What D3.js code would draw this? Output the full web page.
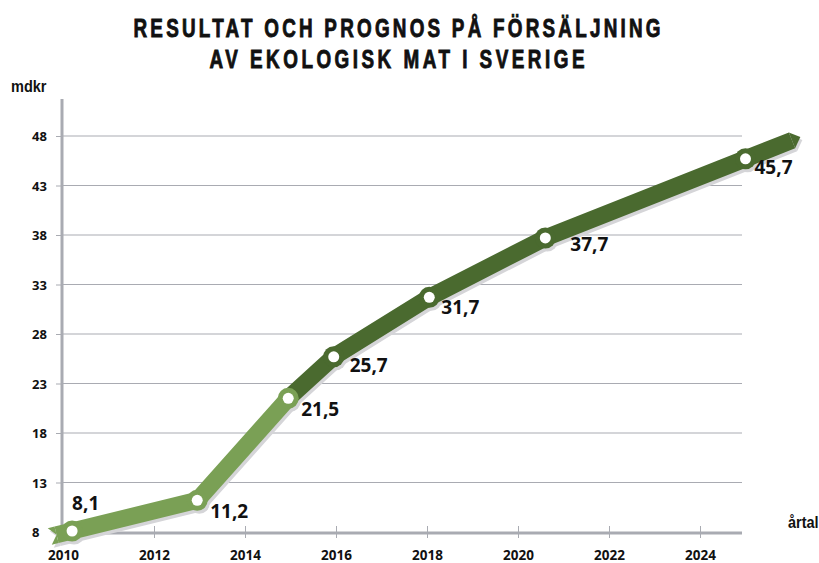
<!DOCTYPE html>
<html>
<head>
<meta charset="utf-8">
<script src="https://cdn.jsdelivr.net/npm/d3@7"></script>
<style>
  body { margin: 0; background: #fff; }
  svg { display: block; }
</style>
</head>
<body>
<div id="chart"></div>
<script>
// Sales of organic food in Sweden, result + forecast (billion SEK)
const years  = [2010.2, 2012.95, 2014.95, 2015.95, 2018.05, 2020.6, 2025];
const values = [8.1, 11.2, 21.5, 25.7, 31.7, 37.7, 45.7];
const yTicks = [8, 13, 18, 23, 28, 33, 38, 43, 48];
const xTicks = [2010, 2012, 2014, 2016, 2018, 2020, 2022, 2024];
const titleLines = ["RESULTAT OCH PROGNOS PÅ FÖRSÄLJNING", "AV EKOLOGISK MAT I SVERIGE"];
const splitIndex = 2; // points up to here are drawn in light green

// label offsets from each point (layout only)
const labelOffsets = [[0, -21], [13, 18], [13, 18], [16, 15], [12, 17], [25, 13], [9, 15]];

const width = 819, height = 563;
const axisX = 62, axisY = 533, gridRight = 742;
const lightGreen = "#7aa055", darkGreen = "#4a6a2f", shadowGray = "#d5d5d8", axisGray = "#a9abb2";
const halfW = 8.5;
const narrowFont = "'Liberation Sans', Arial, sans-serif";

const svg = d3.select("#chart").append("svg")
  .attr("width", width)
  .attr("height", height);

const x = d3.scaleLinear().domain([2010, 2024]).range([63, 700]);
const y = d3.scaleLinear().domain([8, 48]).range([532, 136]);

// title: condensed look by squeezing a bold sans horizontally
const squeeze = 0.74;
svg.append("g")
  .attr("transform", `translate(397,0) scale(${squeeze},1)`)
  .selectAll("text")
  .data(titleLines)
  .join("text")
    .attr("x", 0)
    .attr("y", (d, i) => 37.5 + i * 31)
    .attr("text-anchor", "middle")
    .attr("textLength", (d, i) => (i === 0 ? 527 : 375) / squeeze)
    .attr("lengthAdjust", "spacing")
    .style("font-family", narrowFont)
    .style("font-weight", "bold")
    .style("font-size", "25.5px")
    .style("fill", "#111")
    .style("stroke", "#111")
    .style("stroke-width", 0.9)
    .text(d => d);

// unit labels
svg.append("text")
  .attr("transform", "translate(11,92) scale(0.88,1)")
  .style("font-family", narrowFont)
  .style("font-weight", "bold").style("font-size", "16.5px")
  .style("fill", "#111")
  .text("mdkr");

svg.append("text")
  .attr("transform", "translate(788,528) scale(0.88,1)")
  .style("font-family", narrowFont)
  .style("font-weight", "bold").style("font-size", "16.5px")
  .style("fill", "#111")
  .text("årtal");

// gridlines
svg.append("g").selectAll("line")
  .data(yTicks.filter(t => t !== 8))
  .join("line")
    .attr("x1", axisX).attr("x2", gridRight)
    .attr("y1", d => y(d)).attr("y2", d => y(d))
    .attr("stroke", axisGray).attr("stroke-width", 1);

// y axis
const yAxisG = svg.append("g")
  .attr("transform", `translate(${axisX},0)`)
  .call(d3.axisLeft(y).tickValues(yTicks).tickSize(6).tickPadding(0));
yAxisG.select(".domain").remove();
yAxisG.selectAll(".tick line").attr("stroke", axisGray);
yAxisG.selectAll(".tick text")
  .attr("x", -30)
  .attr("text-anchor", "start")
  .attr("dy", "0.36em")
  .style("font-family", "'Open Sans', sans-serif")
  .style("font-weight", "bold")
  .style("font-size", "13px")
  .style("fill", "#111");

svg.append("line")
  .attr("x1", axisX).attr("x2", axisX)
  .attr("y1", 99).attr("y2", axisY + 1.5)
  .attr("stroke", axisGray).attr("stroke-width", 3);

// x axis
const xAxisG = svg.append("g")
  .attr("transform", `translate(0,${axisY})`)
  .call(d3.axisBottom(x).tickValues(xTicks).tickFormat(d3.format("d")).tickSize(0).tickPadding(0));
xAxisG.select(".domain").remove();
xAxisG.selectAll(".tick line")
  .attr("y1", -7).attr("y2", 5)
  .attr("stroke", axisGray);
xAxisG.selectAll(".tick text")
  .attr("y", 27)
  .attr("dy", 0)
  .style("font-family", "'Open Sans', sans-serif")
  .style("font-weight", "bold")
  .style("font-size", "13.5px")
  .style("fill", "#111");

svg.append("line")
  .attr("x1", axisX - 1.5).attr("x2", gridRight)
  .attr("y1", axisY).attr("y2", axisY)
  .attr("stroke", axisGray).attr("stroke-width", 3);

// band geometry
const pts = years.map((yr, i) => [x(yr), y(values[i])]);

function unit(a, b) {
  const dx = b[0] - a[0], dy = b[1] - a[1];
  const len = Math.hypot(dx, dy);
  return [dx / len, dy / len];
}

const dStart = unit(pts[0], pts[1]);
const dEnd = unit(pts[pts.length - 2], pts[pts.length - 1]);
const tail = [pts[0][0] - dStart[0] * 16, pts[0][1] - dStart[1] * 16];
const head = [pts[pts.length - 1][0] + dEnd[0] * 50, pts[pts.length - 1][1] + dEnd[1] * 50];

const lightPts = [tail, ...pts.slice(0, splitIndex + 1)];
const darkPts = [...pts.slice(splitIndex), head];

const line = d3.line();

function tailShape() {
  const d = dStart, n = [-d[1], d[0]];
  const a = [tail[0] + n[0] * halfW, tail[1] + n[1] * halfW];
  const e = [tail[0] - n[0] * halfW, tail[1] - n[1] * halfW];
  const b = [a[0] - d[0] * 7, a[1] - d[1] * 7];
  const c = [e[0] - d[0] * 7, e[1] - d[1] * 7];
  return [a, b, tail, c, e];
}

function headShape() {
  const d = dEnd, n = [-d[1], d[0]];
  return [
    [head[0] + n[0] * halfW, head[1] + n[1] * halfW],
    [head[0] + d[0] * 9, head[1] + d[1] * 9],
    [head[0] - n[0] * halfW, head[1] - n[1] * halfW]
  ];
}

function drawBand(g, light, dark, withInner) {
  g.append("path")
    .attr("d", line(darkPts))
    .attr("fill", "none").attr("stroke", dark)
    .attr("stroke-width", halfW * 2).attr("stroke-linejoin", "round");
  g.append("polygon")
    .attr("points", headShape().join(" "))
    .attr("fill", dark);
  g.append("path")
    .attr("d", line(lightPts))
    .attr("fill", "none").attr("stroke", light)
    .attr("stroke-width", halfW * 2).attr("stroke-linejoin", "round");
  g.append("polygon")
    .attr("points", tailShape().join(" "))
    .attr("fill", light);
  g.selectAll("circle.ring")
    .data(pts)
    .join("circle")
      .attr("class", "ring")
      .attr("cx", d => d[0]).attr("cy", d => d[1])
      .attr("r", 10.5)
      .attr("fill", (d, i) => i <= splitIndex ? light : dark);
  if (withInner) {
    g.selectAll("circle.dot")
      .data(pts)
      .join("circle")
        .attr("class", "dot")
        .attr("cx", d => d[0]).attr("cy", d => d[1])
        .attr("r", 5.5)
        .attr("fill", "#fff");
  }
}

drawBand(svg.append("g").attr("transform", "translate(2,3)"), shadowGray, shadowGray, false);
drawBand(svg.append("g"), lightGreen, darkGreen, true);

// value labels
const fmt = v => d3.format(".1f")(v).replace(".", ",");
svg.append("g").selectAll("text")
  .data(values)
  .join("text")
    .attr("x", (d, i) => pts[i][0] + labelOffsets[i][0])
    .attr("y", (d, i) => pts[i][1] + labelOffsets[i][1])
    .style("font-family", "'Open Sans', sans-serif")
    .style("font-weight", "bold")
    .style("font-size", "19px")
    .style("fill", "#111")
    .text(fmt);
</script>
</body>
</html>
